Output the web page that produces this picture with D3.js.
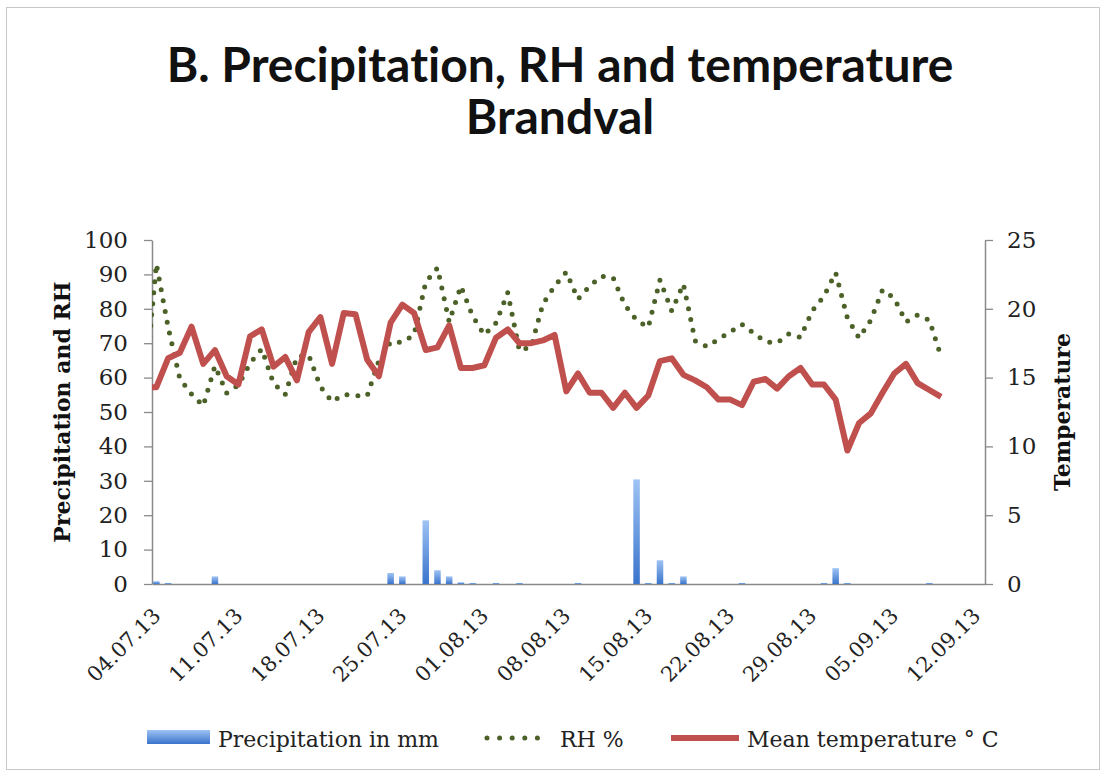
<!DOCTYPE html>
<html>
<head>
<meta charset="utf-8">
<script src="https://cdn.jsdelivr.net/npm/d3@7/dist/d3.min.js"></script>
<style>
  body { margin: 0; background: #fff; }
  .tick-label { font-family: 'DejaVu Serif', serif; fill: #222; }
  .title { font-family: Lato, sans-serif; font-weight: 700; font-size: 48px; font-variant-ligatures: none; }
</style>
</head>
<body>
<svg id="chart" width="1108" height="776"></svg>
<script>
// Daily series, 03.07.13 to 09.09.13 (first day lies just outside the axis and is clipped)
const firstDay = new Date(2013, 6, 3);
const lastDay = new Date(2013, 8, 9);

const precipitation = [0,
  0.8, 0.3, 0, 0, 0, 2.2, 0, 0, 0, 0, 0, 0, 0, 0, 0, 0, 0, 0, 0, 0,
  3.2, 2.2, 0, 18.5, 4.0, 2.2, 0.5, 0.3, 0, 0.3, 0, 0.3, 0, 0, 0, 0,
  0.3, 0, 0, 0, 0, 30.4, 0.3, 6.9, 0.3, 2.2, 0, 0, 0, 0, 0.3, 0, 0, 0,
  0, 0, 0, 0.3, 4.6, 0.3, 0, 0, 0, 0, 0, 0, 0.3, 0];

const relHumidity = [56,
  93, 74.7, 59.7, 55.2, 51.8, 63.4, 55.5, 57.8, 64.2, 68.3, 58.3, 55.1,
  66.1, 66.6, 57.4, 53.0, 55.1, 54.7, 54.7, 65.0, 70.3, 70.3, 72.4, 87.8,
  91.9, 76.2, 86.6, 77.9, 72.4, 75.9, 84.7, 67.8, 69.0, 81.4, 86.6, 90.7,
  82.8, 86.6, 89.5, 89.0, 81.1, 76.7, 74.6, 88.4, 79.4, 87.2, 70.7, 69.0,
  71.2, 73.3, 75.5, 72.9, 70.4, 70.1, 72.7, 71.7, 79.4, 83.7, 90.5, 77.3,
  71.5, 76.7, 85.5, 83.1, 76.2, 78.2, 76.7, 66.1];

const meanTemp = [14.3,
  14.3, 16.4, 16.8, 18.7, 16.0, 17.0, 15.1, 14.5, 18.0, 18.5, 15.8, 16.5,
  14.8, 18.3, 19.4, 16.0, 19.7, 19.6, 16.3, 15.1, 19.0, 20.3, 19.7, 17.0,
  17.2, 18.8, 15.7, 15.7, 15.9, 17.9, 18.5, 17.5, 17.5, 17.7, 18.1, 14.0,
  15.3, 13.9, 13.9, 12.8, 13.9, 12.8, 13.7, 16.2, 16.4, 15.2, 14.8, 14.3,
  13.4, 13.4, 13.0, 14.7, 14.9, 14.2, 15.1, 15.7, 14.5, 14.5, 13.4, 9.7,
  11.7, 12.4, 13.9, 15.3, 16.0, 14.6, 14.1, 13.6];

const xTickLabels = ['04.07.13', '11.07.13', '18.07.13', '25.07.13', '01.08.13', '08.08.13',
  '15.08.13', '22.08.13', '29.08.13', '05.09.13', '12.09.13'];
const leftTicks = [0, 10, 20, 30, 40, 50, 60, 70, 80, 90, 100];
const rightTicks = [0, 5, 10, 15, 20, 25];

const legendItems = [
  { label: 'Precipitation in mm', type: 'bar' },
  { label: 'RH %', type: 'dots' },
  { label: 'Mean temperature ° C', type: 'line' }
];

const parseDate = d3.timeParse('%d.%m.%y');
const dates = d3.timeDays(firstDay, d3.timeDay.offset(lastDay, 1));
const data = dates.map((d, i) => ({
  date: d, precip: precipitation[i], rh: relHumidity[i], temp: meanTemp[i]
}));

const plot = { left: 152, right: 985, top: 240, bottom: 584 };
const axisColor = '#8a8a8a';
const svg = d3.select('#chart');

// frame around the picture
svg.append('rect')
  .attr('x', 6.5).attr('y', 7.5).attr('width', 1093).attr('height', 762)
  .attr('fill', 'none').attr('stroke', '#c8c8c8');

// scales
const x = d3.scaleTime()
  .domain([d3.timeHour.offset(new Date(2013, 6, 4), -9), d3.timeHour.offset(new Date(2013, 8, 12), 18)])
  .range([plot.left, plot.right]);
const yLeft = d3.scaleLinear().domain([0, 100]).range([plot.bottom, plot.top]);
const yRight = d3.scaleLinear().domain([0, 25]).range([plot.bottom, plot.top]);

const defs = svg.append('defs');
defs.append('clipPath').attr('id', 'plotClip')
  .append('rect')
  .attr('x', plot.left).attr('y', 200)
  .attr('width', plot.right - plot.left).attr('height', 400);

const grad = defs.append('linearGradient').attr('id', 'barGrad')
  .attr('x1', 0).attr('y1', 0).attr('x2', 0).attr('y2', 1);
grad.append('stop').attr('offset', '0%').attr('stop-color', '#9ec3f4');
grad.append('stop').attr('offset', '100%').attr('stop-color', '#3a74cc');

// title
svg.append('text')
  .attr('class', 'title')
  .attr('x', 560).attr('y', 82)
  .attr('text-anchor', 'middle')
  .attr('fill', '#111')
  .text('B. Precipitation, RH and temperature');
svg.append('text')
  .attr('class', 'title')
  .attr('x', 560).attr('y', 134)
  .attr('text-anchor', 'middle')
  .attr('fill', '#111')
  .text('Brandval');

// axes
const leftAxis = svg.append('g')
  .attr('transform', `translate(${plot.left},0)`)
  .call(d3.axisLeft(yLeft).tickValues(leftTicks).tickSize(8).tickSizeOuter(0).tickPadding(16));

const rightAxis = svg.append('g')
  .attr('transform', `translate(${plot.right},0)`)
  .call(d3.axisRight(yRight).tickValues(rightTicks).tickSize(8).tickSizeOuter(0).tickPadding(14));

const xAxis = svg.append('g')
  .attr('transform', `translate(0,${plot.bottom})`)
  .call(d3.axisBottom(x).tickValues(xTickLabels.map(parseDate)).tickFormat(d3.timeFormat('%d.%m.%y'))
    .tickSize(0).tickSizeOuter(0));

[leftAxis, rightAxis, xAxis].forEach(g => {
  g.select('.domain').attr('stroke', axisColor).attr('stroke-width', 1.5);
  g.selectAll('.tick line').attr('stroke', axisColor).attr('stroke-width', 1.3);
  g.selectAll('.tick text').attr('class', 'tick-label').attr('fill', '#222');
});
leftAxis.selectAll('.tick text').style('font-size', '23px');
rightAxis.selectAll('.tick text').style('font-size', '23px');
xAxis.selectAll('.tick text')
  .style('font-size', '21px')
  .attr('x', 0).attr('y', 0).attr('dy', 0)
  .attr('text-anchor', 'end')
  .attr('transform', 'translate(5,33) rotate(-45)');

// axis titles
svg.append('text')
  .attr('transform', `translate(70,${(plot.top + plot.bottom) / 2}) rotate(-90)`)
  .attr('text-anchor', 'middle')
  .style('font-family', "'DejaVu Serif', serif").style('font-weight', 700).style('font-size', '22px')
  .attr('fill', '#111')
  .text('Precipitation and RH');
svg.append('text')
  .attr('transform', `translate(1070,${(plot.top + plot.bottom) / 2}) rotate(-90)`)
  .attr('text-anchor', 'middle')
  .style('font-family', "'DejaVu Serif', serif").style('font-weight', 700).style('font-size', '22px')
  .attr('fill', '#111')
  .text('Temperature');

// precipitation bars
const barWidth = 6.5;
svg.append('g').attr('clip-path', 'url(#plotClip)')
  .selectAll('rect')
  .data(data.filter(d => d.precip > 0))
  .enter().append('rect')
  .attr('x', d => x(d.date) - barWidth / 2)
  .attr('y', d => yLeft(d.precip))
  .attr('width', barWidth)
  .attr('height', d => plot.bottom - yLeft(d.precip))
  .attr('fill', 'url(#barGrad)');

// RH dotted line
svg.append('path')
  .datum(data)
  .attr('clip-path', 'url(#plotClip)')
  .attr('fill', 'none')
  .attr('stroke', '#4c6127')
  .attr('stroke-width', 5)
  .attr('stroke-linecap', 'round')
  .attr('stroke-dasharray', '0 11')
  .attr('d', d3.line().x(d => x(d.date)).y(d => yLeft(d.rh)));

// mean temperature line
svg.append('path')
  .datum(data)
  .attr('clip-path', 'url(#plotClip)')
  .attr('fill', 'none')
  .attr('stroke', '#c0504d')
  .attr('stroke-width', 6)
  .attr('stroke-linejoin', 'round')
  .attr('d', d3.line().x(d => x(d.date)).y(d => yRight(d.temp)));

// legend
const legendX = [147, 485, 671];
const legend = svg.append('g').attr('transform', 'translate(0,738)');
legendItems.forEach((item, i) => {
  const g = legend.append('g').attr('transform', `translate(${legendX[i]},0)`);
  let w = 0;
  if (item.type === 'bar') {
    w = 63;
    g.append('rect').attr('x', 0).attr('y', -8).attr('width', w).attr('height', 14).attr('fill', 'url(#barGrad)');
  } else if (item.type === 'dots') {
    w = 67;
    g.append('line').attr('x1', 2).attr('x2', w - 2).attr('y1', 0).attr('y2', 0)
      .attr('stroke', '#4c6127').attr('stroke-width', 5).attr('stroke-linecap', 'round')
      .attr('stroke-dasharray', '0 12.6');
  } else {
    w = 68;
    g.append('line').attr('x1', 0).attr('x2', w).attr('y1', 0).attr('y2', 0)
      .attr('stroke', '#c0504d').attr('stroke-width', 6);
  }
  g.append('text')
    .attr('x', w + 8).attr('y', 9)
    .style('font-family', "'DejaVu Serif', serif").style('font-size', '22px')
    .attr('fill', '#222')
    .text(item.label);
});
</script>
</body>
</html>
